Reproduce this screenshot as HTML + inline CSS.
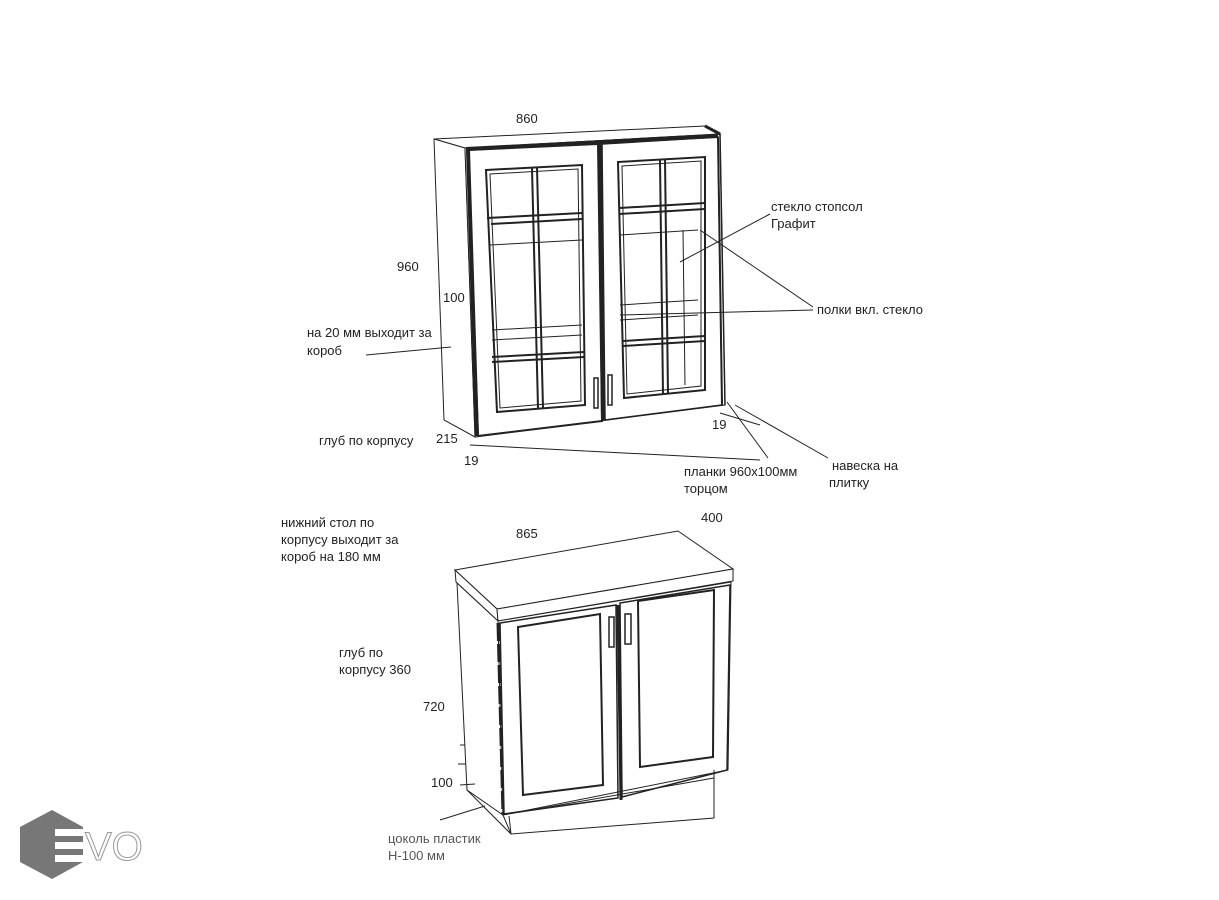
<!DOCTYPE html>
<html><head><meta charset="utf-8"><style>
html,body{margin:0;padding:0;background:#fff;}
svg{display:block;font-family:"Liberation Sans",sans-serif;}
text{font-size:13px;fill:#222;}
</style></head><body>
<svg width="1219" height="900" viewBox="0 0 1219 900" xmlns="http://www.w3.org/2000/svg">
<g fill="none" stroke="#222" stroke-width="1">
<!-- TOP CABINET -->
<polygon points="434,139 705,126 720,134 465,148" fill="#fff"/>
<polygon points="434,139 465,148 475,437 444,420" fill="#fff"/>
<polygon points="465,148 720,134 725,405 475,437" fill="#fff"/>
<line x1="705" y1="126" x2="720" y2="134" stroke-width="3"/>
<line x1="720" y1="134" x2="725" y2="405" stroke-width="1.5"/>
<!-- doors -->
<polygon points="468,150 598,144 602,421 478,436" stroke-width="2"/>
<polygon points="602,144 718,137 722,405 605,420" stroke-width="1.5"/>
<line x1="466" y1="149" x2="718" y2="136" stroke-width="4"/>
<line x1="468" y1="150" x2="477" y2="436" stroke-width="4"/>
<line x1="600" y1="144" x2="603" y2="420" stroke-width="4"/>
<line x1="718" y1="137" x2="722" y2="405" stroke-width="2"/>
<!-- left glass frame -->
<g stroke-width="2">
<polygon points="486,170 582,165 585,405 497,412"/>
<polygon points="490,174 578,169 581,401 500,408" stroke-width="1"/>
<line x1="532" y1="168" x2="538" y2="408"/>
<line x1="537" y1="168" x2="543" y2="408"/>
<line x1="487" y1="218" x2="582" y2="213"/>
<line x1="491" y1="224" x2="582" y2="219"/>
<line x1="492" y1="357" x2="584" y2="352"/>
<line x1="492" y1="362" x2="584" y2="357"/>
</g>
<line x1="492" y1="330" x2="582" y2="325"/>
<line x1="492" y1="340" x2="582" y2="335"/>
<line x1="490" y1="245" x2="582" y2="240"/>
<!-- right glass frame -->
<g stroke-width="2">
<polygon points="618,162 705,157 705,390 624,398"/>
<polygon points="622,166 701,161 701,386 627,394" stroke-width="1"/>
<line x1="660" y1="160" x2="663" y2="394"/>
<line x1="665" y1="160" x2="668" y2="394"/>
<line x1="619" y1="208" x2="705" y2="203"/>
<line x1="619" y1="214" x2="705" y2="209"/>
<line x1="623" y1="341" x2="705" y2="336"/>
<line x1="623" y1="346" x2="705" y2="341"/>
</g>
<line x1="620" y1="235" x2="698" y2="230"/>
<line x1="620" y1="305" x2="698" y2="300"/>
<line x1="620" y1="320" x2="698" y2="315"/>
<line x1="683" y1="230" x2="685" y2="385"/>
<!-- handles -->
<rect x="594" y="378" width="4" height="30" stroke-width="1.5" fill="#fff"/>
<rect x="608" y="375" width="4" height="30" stroke-width="1.5" fill="#fff"/>
<!-- leaders top -->
<line x1="366" y1="355" x2="451" y2="347"/>
<line x1="470" y1="445" x2="760" y2="460"/>
<line x1="727" y1="402" x2="768" y2="458"/>
<line x1="735" y1="405" x2="828" y2="458"/>
<line x1="720" y1="413" x2="760" y2="425"/>
<line x1="770" y1="214" x2="680" y2="262"/>
<line x1="813" y1="307" x2="700" y2="230"/>
<line x1="813" y1="310" x2="620" y2="315"/>
<!-- BOTTOM CABINET -->
<polygon points="455,570 678,531 733,569 497,609" fill="#fff"/>
<polygon points="455,570 497,609 498,621 456,582" fill="#fff"/>
<polygon points="497,609 733,569 733,581 498,621" fill="#fff"/>
<polygon points="457,583 498,621 503,815 467,790" fill="#fff"/>
<polygon points="498,621 731,582 728,770 503,815" fill="#fff"/>
<polygon points="503,815 714,778 714,818 511,834" fill="#fff"/>
<line x1="467" y1="790" x2="511" y2="834"/>
<line x1="509" y1="816" x2="511" y2="834"/>
<line x1="714" y1="770" x2="714" y2="818"/>
<!-- doors -->
<polygon points="500,623 616,605 618,798 504,814" stroke-width="1.5"/>
<polygon points="620,603 730,585 727,770 622,797" stroke-width="1.5"/>
<line x1="498" y1="623" x2="503" y2="815" stroke-width="3" stroke-dasharray="18,3"/>
<line x1="618" y1="605" x2="621" y2="800" stroke-width="3"/>
<polygon points="518,627 600,614 603,785 523,795" stroke-width="2"/>
<polygon points="638,601 714,590 713,757 640,767" stroke-width="2"/>
<rect x="609" y="617" width="5" height="30" stroke-width="1.5" fill="#fff"/>
<rect x="625" y="614" width="6" height="30" stroke-width="1.5" fill="#fff"/>
<!-- leaders bottom -->
<line x1="460" y1="745" x2="465" y2="745"/>
<line x1="458" y1="764" x2="466" y2="764"/>
<line x1="460" y1="785" x2="475" y2="784"/>
<line x1="440" y1="820" x2="485" y2="806"/>
</g>
<!-- labels -->
<text x="516" y="123">860</text>
<text x="397" y="271">960</text>
<text x="443" y="302">100</text>
<text x="307" y="337">на 20 мм выходит за</text>
<text x="307" y="355">короб</text>
<text x="319" y="445">глуб по корпусу</text>
<text x="436" y="443">215</text>
<text x="464" y="465">19</text>
<text x="712" y="429">19</text>
<text x="771" y="211">стекло стопсол</text>
<text x="771" y="228">Графит</text>
<text x="817" y="314">полки вкл. стекло</text>
<text x="684" y="476">планки 960х100мм</text>
<text x="684" y="493">торцом</text>
<text x="832" y="470">навеска на</text>
<text x="829" y="487">плитку</text>
<text x="281" y="527">нижний стол по</text>
<text x="281" y="544">корпусу  выходит за</text>
<text x="281" y="561">короб на 180 мм</text>
<text x="516" y="538">865</text>
<text x="701" y="522">400</text>
<text x="339" y="657">глуб по</text>
<text x="339" y="674">корпусу 360</text>
<text x="423" y="711">720</text>
<text x="431" y="787">100</text>
<text x="388" y="843" style="fill:#555">цоколь пластик</text>
<text x="388" y="860" style="fill:#555">Н-100 мм</text>
<!-- logo -->
<polygon points="52,810 83,827 83,862 52,879 20,862 20,827" fill="#777"/>
<rect x="55" y="829" width="28" height="7" fill="#fff"/>
<rect x="55" y="842" width="28" height="7" fill="#fff"/>
<rect x="55" y="855" width="28" height="7" fill="#fff"/>
<text x="85" y="860" style="font-size:40px;fill:#fff;stroke:#999;stroke-width:1">VO</text>
</svg>
</body></html>
